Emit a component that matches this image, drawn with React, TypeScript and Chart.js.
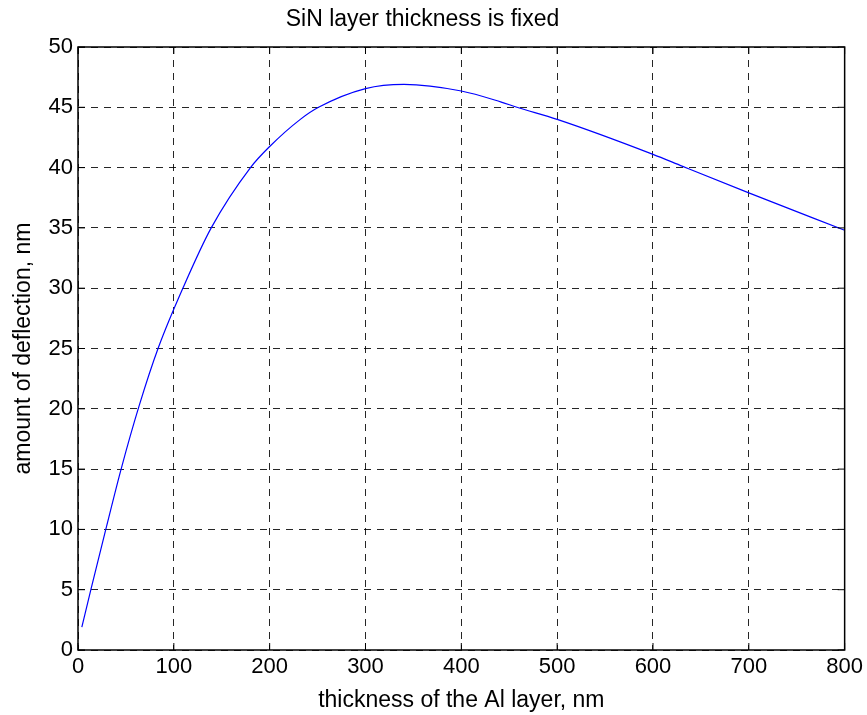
import { useEffect, useRef } from "react";
import { Chart, registerables } from "chart.js";

Chart.register(...registerables);

const chartTitle = "SiN layer thickness is fixed";
const xTitle = "thickness of the Al layer, nm";
const yTitle = "amount of deflection, nm";

const xTicks = [0, 100, 200, 300, 400, 500, 600, 700, 800];
const yTicks = [0, 5, 10, 15, 20, 25, 30, 35, 40, 45, 50];

const thickness = [4, 14, 29, 45, 64, 84, 110, 139, 180, 200, 232, 251, 300, 340, 400, 441, 458, 500, 600, 631, 700, 800];
const deflection = [1.9, 5.2, 10.0, 15.0, 20.3, 25.1, 30.1, 35.0, 40.0, 41.75, 44.0, 45.0, 46.55, 46.9, 46.35, 45.45, 45.0, 44.0, 41.1, 40.1, 37.9, 34.8];

const FONT = "'Liberation Sans', Arial, Helvetica, sans-serif";

const framePlugin = {
  id: "frame",
  afterDraw(chart: any) {
    const { ctx, chartArea, scales } = chart;
    const { left, right, top, bottom } = chartArea;
    ctx.save();
    ctx.strokeStyle = "#000";
    ctx.lineWidth = 1;
    ctx.setLineDash([]);
    ctx.beginPath();
    const tl = 7;
    for (const t of scales.x.ticks) {
      const px = scales.x.getPixelForValue(t.value);
      ctx.moveTo(px, bottom);
      ctx.lineTo(px, bottom - tl);
      ctx.moveTo(px, top);
      ctx.lineTo(px, top + tl);
    }
    for (const t of scales.y.ticks) {
      const py = scales.y.getPixelForValue(t.value);
      ctx.moveTo(left, py);
      ctx.lineTo(left + tl, py);
      ctx.moveTo(right, py);
      ctx.lineTo(right - tl, py);
    }
    ctx.stroke();
    ctx.lineWidth = 1.5;
    ctx.strokeRect(left, top, right - left, bottom - top);
    ctx.restore();
  },
};

export default function App() {
  const ref = useRef<HTMLCanvasElement>(null);

  useEffect(() => {
    document.body.style.margin = "0";
    const chart = new Chart(ref.current as HTMLCanvasElement, {
      type: "line",
      data: {
        datasets: [
          {
            data: thickness.map((x, i) => ({ x, y: deflection[i] })),
            borderColor: "#0000ff",
            borderWidth: 1.2,
            pointRadius: 0,
            cubicInterpolationMode: "monotone",
            fill: false,
          },
        ],
      },
      options: {
        responsive: false,
        animation: false,
        layout: { padding: { left: 0, right: 22, top: 0, bottom: 0 } },
        plugins: {
          legend: { display: false },
          tooltip: { enabled: false },
          title: {
            display: true,
            text: chartTitle,
            color: "#000",
            font: { family: FONT, size: 23, weight: "normal", lineHeight: 1.2 },
            padding: { top: 6, bottom: 13.4 },
          },
        },
        scales: {
          x: {
            type: "linear",
            min: 0,
            max: 800,
            afterBuildTicks: (s: any) => {
              s.ticks = xTicks.map((v) => ({ value: v }));
            },
            afterFit: (s: any) => {
              s.height = 65;
            },
            grid: { color: "rgba(0,0,0,0.85)", lineWidth: 1, drawTicks: false },
            border: { display: false, dash: [7, 6] },
            ticks: {
              color: "#000",
              padding: 4,
              maxRotation: 0,
              font: { family: FONT, size: 22 },
            },
            title: {
              display: true,
              text: xTitle,
              color: "#000",
              font: { family: FONT, size: 23, lineHeight: 1.2 },
              padding: { top: 0, bottom: 1 },
            },
          },
          y: {
            type: "linear",
            min: 0,
            max: 50,
            afterBuildTicks: (s: any) => {
              s.ticks = yTicks.map((v) => ({ value: v }));
            },
            afterFit: (s: any) => {
              s.width = 78;
            },
            grid: { color: "rgba(0,0,0,0.85)", lineWidth: 1, drawTicks: false },
            border: { display: false, dash: [7, 6] },
            ticks: {
              color: "#000",
              padding: 5,
              font: { family: FONT, size: 22 },
            },
            title: {
              display: true,
              text: yTitle,
              color: "#000",
              font: { family: FONT, size: 23, lineHeight: 1.2 },
              padding: { top: 10, bottom: 0 },
            },
          },
        },
      },
      plugins: [framePlugin],
    } as any);
    return () => chart.destroy();
  }, []);

  return (
    <div style={{ position: "fixed", left: 0, top: 0, width: 867, height: 715, background: "#fff" }}>
      <canvas ref={ref} width={867} height={715} style={{ display: "block" }} />
    </div>
  );
}
